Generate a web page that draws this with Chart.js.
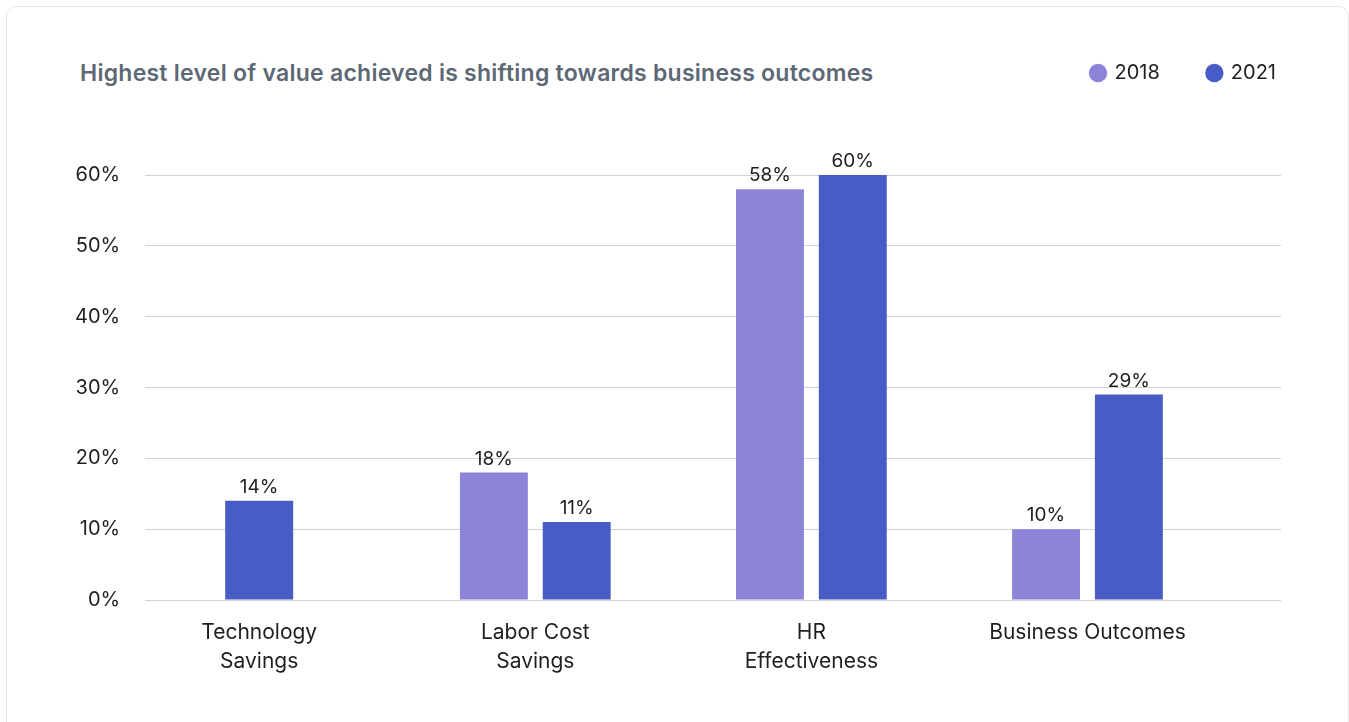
<!DOCTYPE html>
<html>
<head>
<meta charset="utf-8">
<script src="https://cdn.jsdelivr.net/npm/chart.js@4/dist/chart.umd.min.js"></script>
<style>
  html, body { margin: 0; padding: 0; background: #ffffff; }
  body { width: 1349px; height: 722px; position: relative; overflow: hidden; font-family: Inter, "Noto Sans", sans-serif; }
  .card { position: absolute; left: 6px; top: 6px; width: 1343px; height: 740px; border: 1px solid #e6e8eb; border-radius: 10px; box-sizing: border-box; }
  h2 { position: absolute; left: 80px; top: 59px; margin: 0; font: 600 23px/28px Inter, sans-serif; color: #5d6875; letter-spacing: 0.25px; white-space: nowrap; }
  .wrap { position: absolute; left: 0; top: 0; width: 1349px; height: 722px; }
</style>
</head>
<body>
<div class="card"></div>
<h2>Highest level of value achieved is shifting towards business outcomes</h2>
<div class="wrap"><canvas id="chart"></canvas></div>
<script>
// Categories (tick labels split over lines) and survey shares per year
const categories = [["Technology", "Savings"], ["Labor Cost", "Savings"], ["HR", "Effectiveness"], ["Business Outcomes"]];
const years = ["2018", "2021"];
const values2018 = [null, 18, 58, 10];
const values2021 = [14, 11, 60, 29];
const yTicks = [0, 10, 20, 30, 40, 50, 60];

const colors = { "2018": "#8c84d8", "2021": "#485cc6" };
const textColor = "#1f1f1f";
const font = "Inter, 'Noto Sans', sans-serif";

// Bars sit on a numeric x axis, one slot per category index
const toPoints = arr => arr.map((v, i) => ({ x: i, y: v }));

// Writes each bar's value above it
const valueLabels = {
  id: "valueLabels",
  afterDatasetsDraw(chart) {
    const ctx = chart.ctx;
    ctx.save();
    ctx.font = "19px " + font;
    ctx.fillStyle = textColor;
    ctx.textAlign = "center";
    ctx.textBaseline = "bottom";
    chart.data.datasets.forEach((ds, di) => {
      const meta = chart.getDatasetMeta(di);
      meta.data.forEach((bar, i) => {
        const v = ds.data[i].y;
        if (v === null || v === undefined) return;
        ctx.fillText(v + "%", bar.x, bar.y - 4);
      });
    });
    ctx.restore();
  }
};

// Extra room between the legend row and the plot, and legend flush right
const legendPlacement = {
  id: "legendPlacement",
  beforeInit(chart) {
    const fit = chart.legend.fit;
    chart.legend.fit = function () {
      fit.call(this);
      this.height += 82;
    };
  },
  afterLayout(chart) {
    const lg = chart.legend;
    const shift = lg.options.labels.padding - 5;
    lg.left += shift;
    lg.right += shift;
  }
};

new Chart(document.getElementById("chart"), {
  type: "bar",
  data: {
    datasets: [
      { label: years[0], data: toPoints(values2018), backgroundColor: colors["2018"] },
      { label: years[1], data: toPoints(values2021), backgroundColor: colors["2021"] }
    ]
  },
  options: {
    responsive: true,
    maintainAspectRatio: false,
    animation: false,
    skipNull: true,
    categoryPercentage: 0.6,
    barPercentage: 0.82,
    maxBarThickness: 68,
    layout: { padding: { left: 50, right: 68, top: 15, bottom: 36 } },
    plugins: {
      tooltip: { enabled: false },
      legend: {
        position: "top",
        align: "end",
        labels: {
          usePointStyle: true,
          pointStyle: "circle",
          boxWidth: 13,
          boxHeight: 13,
          padding: 48,
          color: textColor,
          font: { family: font, size: 20 }
        }
      }
    },
    scales: {
      x: {
        type: "linear",
        offset: false,
        min: -0.413,
        max: 3.701,
        grid: { display: false },
        border: { display: false },
        afterBuildTicks(scale) {
          scale.ticks = categories.map((c, i) => ({ value: i }));
        },
        ticks: {
          padding: 10,
          color: textColor,
          font: { family: font, size: 21, lineHeight: 1.38 },
          maxRotation: 0,
          autoSkip: false,
          callback: v => categories[v]
        }
      },
      y: {
        min: 0,
        max: 60,
        afterBuildTicks(scale) {
          scale.ticks = yTicks.map(v => ({ value: v }));
        },
        grid: { color: "#cfd3d8", lineWidth: 1, drawTicks: false },
        border: { display: false },
        ticks: {
          padding: 25,
          color: textColor,
          font: { family: font, size: 20 },
          callback: v => v + "%"
        }
      }
    }
  },
  plugins: [valueLabels, legendPlacement]
});
</script>
</body>
</html>
